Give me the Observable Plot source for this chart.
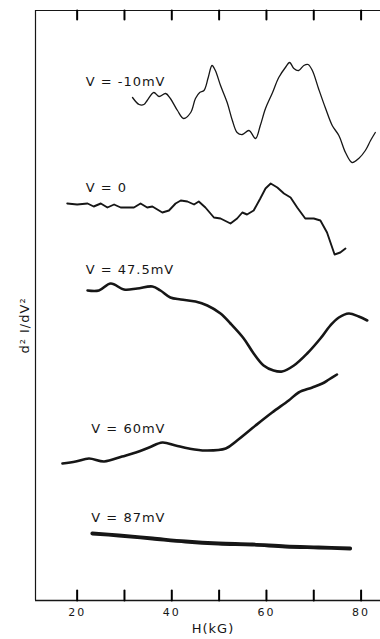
<!DOCTYPE html>
<html><head><meta charset="utf-8">
<script src="https://cdn.jsdelivr.net/npm/d3@7"></script>
<script src="https://cdn.jsdelivr.net/npm/@observablehq/plot@0.6"></script>
<style>
body{margin:0;background:#fff}
svg{display:block}
g[aria-label="text"] text{letter-spacing:1px}
g[aria-label="x-axis tick label"] text{letter-spacing:2px}
</style>
</head><body><div id="chart"></div>
<script>
// Magnetic field H (kG) and d2I/dV2 (arbitrary units, curves offset vertically)
const H_m10 = [31.7,33.1,34.1,34.8,36.2,37.3,38.7,39.7,41.2,42.5,44.0,45.0,45.9,46.8,47.7,48.5,49.2,50.3,51.7,52.8,53.8,54.9,56.3,57.7,58.7,59.8,61.2,62.6,64.0,64.9,65.8,66.8,67.9,68.8,69.7,71.0,72.5,73.9,75.3,76.7,78.1,79.5,80.9,82.0,83.0];
const S_m10 = [50.3,49.6,49.6,50.0,50.8,50.4,50.7,50.2,49.0,48.2,48.8,50.2,50.8,51.0,52.3,53.5,53.0,51.5,49.8,48.0,46.8,46.6,47.0,46.2,47.5,49.2,50.7,52.3,53.3,53.8,53.2,53.0,53.5,53.6,53.0,51.2,49.2,47.5,46.5,44.8,43.8,44.2,45.0,46.0,46.8];

const H_0 = [17.9,20.0,22.2,23.5,25.0,26.4,27.8,29.2,30.6,32.0,33.4,34.8,35.9,38.0,39.4,40.8,41.9,43.3,44.7,45.7,47.1,48.9,50.3,52.4,53.8,54.9,55.9,57.3,58.7,59.8,60.9,62.3,63.7,65.1,66.5,68.2,70.0,71.4,72.8,74.4,75.6,76.7];
const S_0 = [39.7,39.6,39.7,39.4,39.7,39.3,39.6,39.3,39.3,39.3,39.7,39.3,39.4,38.8,39.0,39.7,40.0,39.9,39.6,39.9,39.3,38.3,38.2,37.7,38.2,38.8,38.6,39.0,40.2,41.2,41.7,41.3,40.7,40.3,39.3,38.2,38.2,38.0,36.8,34.6,34.8,35.2];

const H_475 = [22.2,24.6,27.1,29.9,32.7,35.9,37.6,39.7,41.9,45.0,47.5,50.3,52.4,55.2,57.3,59.4,61.5,63.3,65.8,68.6,71.4,73.5,75.3,77.4,79.5,81.3];
const S_475 = [31.0,31.0,31.7,31.1,31.2,31.4,31.0,30.3,30.1,29.9,29.5,28.7,27.7,26.2,24.7,23.5,23.0,22.9,23.5,24.7,26.2,27.5,28.3,28.7,28.4,28.0];

const H_60 = [16.9,19.7,22.5,25.7,29.5,32.4,35.2,38.0,40.8,43.6,47.1,51.4,53.8,57.7,61.2,64.7,66.8,69.7,71.8,73.2,74.9];
const S_60 = [13.7,13.9,14.2,13.9,14.4,14.8,15.3,15.8,15.5,15.2,15.0,15.2,16.0,17.5,18.8,20.0,20.8,21.3,21.7,22.1,22.6];

const H_87 = [23.2,28.8,35.9,42.9,49.9,57.0,64.0,71.0,77.7];
const S_87 = [6.7,6.5,6.2,5.9,5.7,5.6,5.4,5.3,5.2];

const labelText = ["V = -10mV","V = 0","V = 47.5mV","V = 60mV","V = 87mV"];
const labelH = [21.8,21.8,21.8,23.0,23.0];
const labelV = [51.9,41.25,33.1,17.2,8.3];

const tickAll = [20,30,40,50,60,70,80];
const tickLabeled = [20,40,60,80];
const xTitle = "H(kG)";
const yTitle = "d\u00B2 I/dV\u00B2";
const xDomain = [11.2, 84.1];
const yDomain = [0, 59];

const toRows = (hs, ss) => hs.map((h, i) => ({H: h, v: ss[i]}));
const labels = labelText.map((t, i) => ({t, H: labelH[i], v: labelV[i]}));
const ink = "#161616";
const bottomTicks = tickAll.flatMap(h => [{H: h, v: yDomain[0], k: h}, {H: h, v: yDomain[0] + 1.0, k: h}]);
const topTicks = tickAll.flatMap(h => [{H: h, v: yDomain[1], k: h}, {H: h, v: yDomain[1] - 0.9, k: h}]);

const chart = Plot.plot({
  width: 380, height: 639,
  marginTop: 10, marginBottom: 39, marginLeft: 35, marginRight: 0,
  style: {fontFamily: "'DejaVu Sans', sans-serif", background: "#fff", color: ink},
  x: {domain: xDomain},
  y: {domain: yDomain, axis: null},
  marks: [
    Plot.ruleY([yDomain[1]], {stroke: ink, strokeWidth: 1.1}),
    Plot.ruleY([yDomain[0]], {stroke: ink, strokeWidth: 1.4}),
    Plot.ruleX([xDomain[0]], {stroke: ink, strokeWidth: 1.2}),
    Plot.line(bottomTicks, {x: "H", y: "v", z: "k", stroke: "#000", strokeWidth: 2}),
    Plot.line(topTicks, {x: "H", y: "v", z: "k", stroke: "#000", strokeWidth: 2}),
    Plot.axisX({anchor: "bottom", ticks: tickLabeled, tickSize: 0, tickPadding: 8, fontSize: 11, label: null, fill: ink}),
    Plot.line(toRows(H_m10, S_m10), {x: "H", y: "v", stroke: ink, strokeWidth: 1.3, curve: "catmull-rom"}),
    Plot.line(toRows(H_0, S_0), {x: "H", y: "v", stroke: ink, strokeWidth: 1.9, curve: "linear"}),
    Plot.line(toRows(H_475, S_475), {x: "H", y: "v", stroke: ink, strokeWidth: 2.6, curve: "catmull-rom"}),
    Plot.line(toRows(H_60, S_60), {x: "H", y: "v", stroke: ink, strokeWidth: 2.6, curve: "catmull-rom"}),
    Plot.line(toRows(H_87, S_87), {x: "H", y: "v", stroke: ink, strokeWidth: 3.8, curve: "catmull-rom"}),
    Plot.text(labels, {x: "H", y: "v", text: "t", textAnchor: "start", fontSize: 13, fill: ink}),
    Plot.text([xTitle], {frameAnchor: "bottom", text: d => d, textAnchor: "middle", dy: 32, dx: 5, fontSize: 13, fill: ink}),
    Plot.text([yTitle], {frameAnchor: "left", text: d => d, textAnchor: "middle", rotate: -90, dx: -11, dy: 20, fontSize: 13, fill: ink})
  ]
});
document.getElementById("chart").appendChild(chart);
</script>
</body></html>
